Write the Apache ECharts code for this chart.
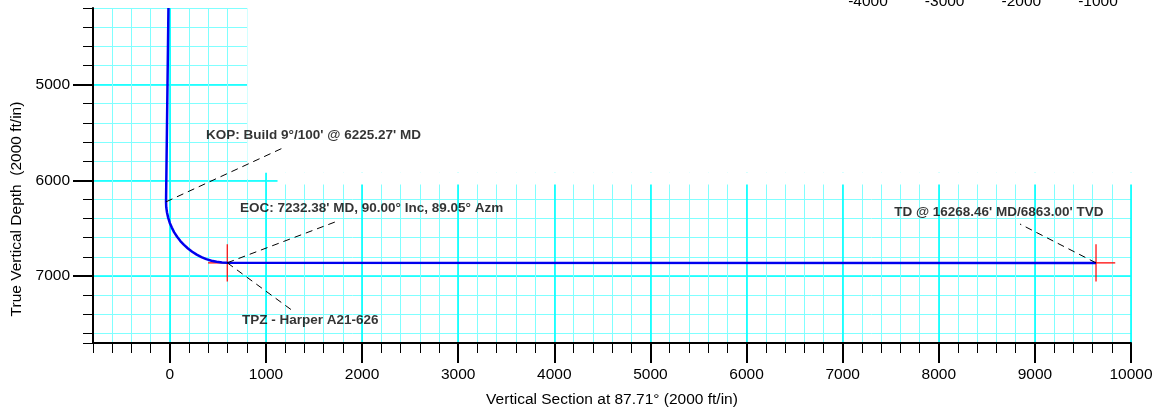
<!DOCTYPE html>
<html><head><meta charset="utf-8">
<script src="https://cdn.jsdelivr.net/npm/echarts@6/dist/echarts.min.js"></script>
<style>html,body{margin:0;padding:0;background:#fff}#c{width:1153px;height:410px}</style>
</head><body><div id="c"></div>
<script>
// Well path (vertical section ft, true vertical depth ft)
const wellVS  = [-15, -40, -38, -30, -18, -2, 20, 45, 75, 109, 147, 188, 232, 279, 328, 379, 432, 486, 542, 597, 9636];
const wellTVD = [4200, 6225, 6281, 6336, 6390, 6443, 6494, 6544, 6590, 6635, 6675, 6713, 6747, 6777, 6802, 6824, 6840, 6852, 6860, 6862, 6863];
// target crosses (EOC / TD)
const crossVS  = [597, 9636];
const crossTVD = [6862, 6863];
// annotation leaders
const leaderFromVS  = [-40, 597, 597, 9636];
const leaderFromTVD = [6225, 6862, 6862, 6863];
const leaderToVS    = [1198, 1718, 1281, 8845];
const leaderToTVD   = [5652, 6436, 7366, 6457];
// annotation texts and anchors
const annotationTexts = [
  "KOP: Build 9°/100' @ 6225.27' MD",
  "EOC: 7232.38' MD, 90.00° Inc, 89.05° Azm",
  "TPZ - Harper A21-626",
  "TD @ 16268.46' MD/6863.00' TVD"
];
const annotationVS  = [376, 729, 750, 7535];
const annotationTVD = [5532, 6290, 7465, 6332];
// tick labels
const xTickLabels = [0, 1000, 2000, 3000, 4000, 5000, 6000, 7000, 8000, 9000, 10000];
const yTickLabels = [5000, 6000, 7000];
const planTickLabels = [-4000, -3000, -2000, -1000];
// region of the plot hidden by the plan view panel (data coords)
const maskVS  = [[806, 10300], [806, 985], [1015, 1120], [1120, 10300]];
const maskTVD = [[4000, 5920], [5920, 5990], [5920, 5990], [5920, 6045]];

const FONT = "'Liberation Sans', Arial, Helvetica, sans-serif";
const ARM_VS = 200, ARM_TVD = 195;
const RED = '#ff0000';

const chart = echarts.init(document.getElementById('c'), null, {renderer: 'canvas'});

const wellData = wellVS.map((v, i) => [v, wellTVD[i]]);
const crossData = [];
crossVS.forEach((x, i) => {
  const y = crossTVD[i];
  if (crossData.length) crossData.push(['-', '-']);
  crossData.push([x - ARM_VS, y], [x + ARM_VS, y], ['-', '-'], [x, y - ARM_TVD], [x, y + ARM_TVD]);
});
const leaderData = leaderFromVS.map((v, i) => ({coords: [[v, leaderFromTVD[i]], [leaderToVS[i], leaderToTVD[i]]]}));
const annData = annotationTexts.map((t, i) => ({name: t, value: [annotationVS[i], annotationTVD[i]]}));
const maskData = maskVS.map((xs, i) => [xs[0], xs[1], maskTVD[i][0], maskTVD[i][1]]);

const xMin = -800, xMax = 10000, yMin = 4200, yMax = 7700;
const G = {left: 93, top: 8, width: 1038, height: 335};
const pxX = G.width / (xMax - xMin), pxY = G.height / (yMax - yMin);
const x0 = xTickLabels[0], x1 = xTickLabels[xTickLabels.length - 1];
const y0 = yTickLabels[0], y1 = yTickLabels[yTickLabels.length - 1];

function renderMask(params, api) {
  const a = api.coord([api.value(0), api.value(2)]);
  const b = api.coord([api.value(1), api.value(3)]);
  return {
    type: 'rect',
    shape: {x: Math.min(a[0], b[0]), y: Math.min(a[1], b[1]), width: Math.abs(b[0] - a[0]), height: Math.abs(b[1] - a[1])},
    style: {fill: '#ffffff', stroke: null}
  };
}

const option = {
  animation: false,
  backgroundColor: '#fff',
  grid: [
    {left: G.left, top: G.top, width: G.width, height: G.height, outerBoundsMode: 'none', containLabel: false},
    {left: G.left + (x0 - xMin) * pxX, top: G.top, width: (x1 - x0) * pxX, height: G.height, outerBoundsMode: 'none', containLabel: false},
    {left: G.left, top: G.top + (y0 - yMin) * pxY, width: G.width, height: (y1 - y0) * pxY, outerBoundsMode: 'none', containLabel: false},
    {left: 868, top: -30, width: 230, height: 20, outerBoundsMode: 'none', containLabel: false}
  ],
  xAxis: [
    {gridIndex: 0, type: 'value', min: xMin, max: xMax, interval: 200,
     name: 'Vertical Section at 87.71° (2000 ft/in)', nameLocation: 'middle', nameGap: 49,
     nameTextStyle: {fontFamily: FONT, fontSize: 15.5, color: '#000'},
     axisLine: {show: true, onZero: false, lineStyle: {color: '#000', width: 2}},
     axisTick: {show: true, length: 10, lineStyle: {color: '#000', width: 1}},
     axisLabel: {show: false},
     splitLine: {show: true, lineStyle: {color: '#80ffff', width: 1}}},
    {gridIndex: 1, type: 'value', min: x0, max: x1, interval: 1000,
     axisLine: {show: false},
     axisTick: {show: true, length: 20, lineStyle: {color: '#000', width: 2}},
     axisLabel: {show: true, margin: 24, fontFamily: FONT, fontSize: 15.5, color: '#000', formatter: v => String(v)},
     splitLine: {show: true, lineStyle: {color: '#00ffff', width: 1.6}}},
    {gridIndex: 2, type: 'value', show: false, min: 0, max: 1},
    {gridIndex: 3, type: 'value', z: 20, min: planTickLabels[0], max: planTickLabels[planTickLabels.length - 1], interval: 1000,
     axisLine: {show: false}, axisTick: {show: false}, splitLine: {show: false},
     axisLabel: {show: true, margin: 4, fontFamily: FONT, fontSize: 15.5, color: '#000', formatter: v => String(v)}}
  ],
  yAxis: [
    {gridIndex: 0, type: 'value', inverse: true, min: yMin, max: yMax, interval: 200,
     name: 'True Vertical Depth  (2000 ft/in)', nameLocation: 'middle', nameGap: 68,
     nameTextStyle: {fontFamily: FONT, fontSize: 15.5, color: '#000', padding: [0, 67, 0, 0]},
     axisLine: {show: true, onZero: false, lineStyle: {color: '#000', width: 2}},
     axisTick: {show: true, length: 10, lineStyle: {color: '#000', width: 1}},
     axisLabel: {show: false},
     splitLine: {show: true, lineStyle: {color: '#80ffff', width: 1}}},
    {gridIndex: 1, type: 'value', show: false, min: 0, max: 1},
    {gridIndex: 2, type: 'value', inverse: true, min: y0, max: y1, interval: 1000,
     axisLine: {show: false},
     axisTick: {show: true, length: 20, lineStyle: {color: '#000', width: 2}},
     axisLabel: {show: true, margin: 23, fontFamily: FONT, fontSize: 15.5, color: '#000', formatter: v => String(v)},
     splitLine: {show: true, lineStyle: {color: '#00ffff', width: 1.6}}},
    {gridIndex: 3, type: 'value', show: false, min: 0, max: 1}
  ],
  series: [
    {type: 'custom', xAxisIndex: 0, yAxisIndex: 0, z: 1, silent: true, clip: false,
     renderItem: renderMask, encode: {x: [0, 1], y: [2, 3]}, data: maskData},
    {type: 'line', xAxisIndex: 0, yAxisIndex: 0, z: 3, silent: true, symbol: 'none', connectNulls: false,
     itemStyle: {color: RED}, lineStyle: {color: RED, width: 1.2, opacity: 1}, data: crossData},
    {type: 'line', xAxisIndex: 0, yAxisIndex: 0, z: 4, data: wellData, symbol: 'none', silent: true,
     lineStyle: {color: '#0000ee', width: 2.5}},
    {type: 'lines', coordinateSystem: 'cartesian2d', xAxisIndex: 0, yAxisIndex: 0, z: 5, silent: true,
     lineStyle: {color: '#000', width: 1, type: [7, 5], opacity: 1}, data: leaderData},
    {type: 'scatter', xAxisIndex: 0, yAxisIndex: 0, z: 6, silent: true, data: annData,
     symbolSize: 0.1, itemStyle: {color: 'rgba(0,0,0,0)'},
     label: {show: true, position: 'right', distance: 0, formatter: '{b}',
             fontFamily: FONT, fontSize: 13.5, fontWeight: 'bold', color: '#000'}}
  ]
};
chart.setOption(option);
</script>
</body></html>
